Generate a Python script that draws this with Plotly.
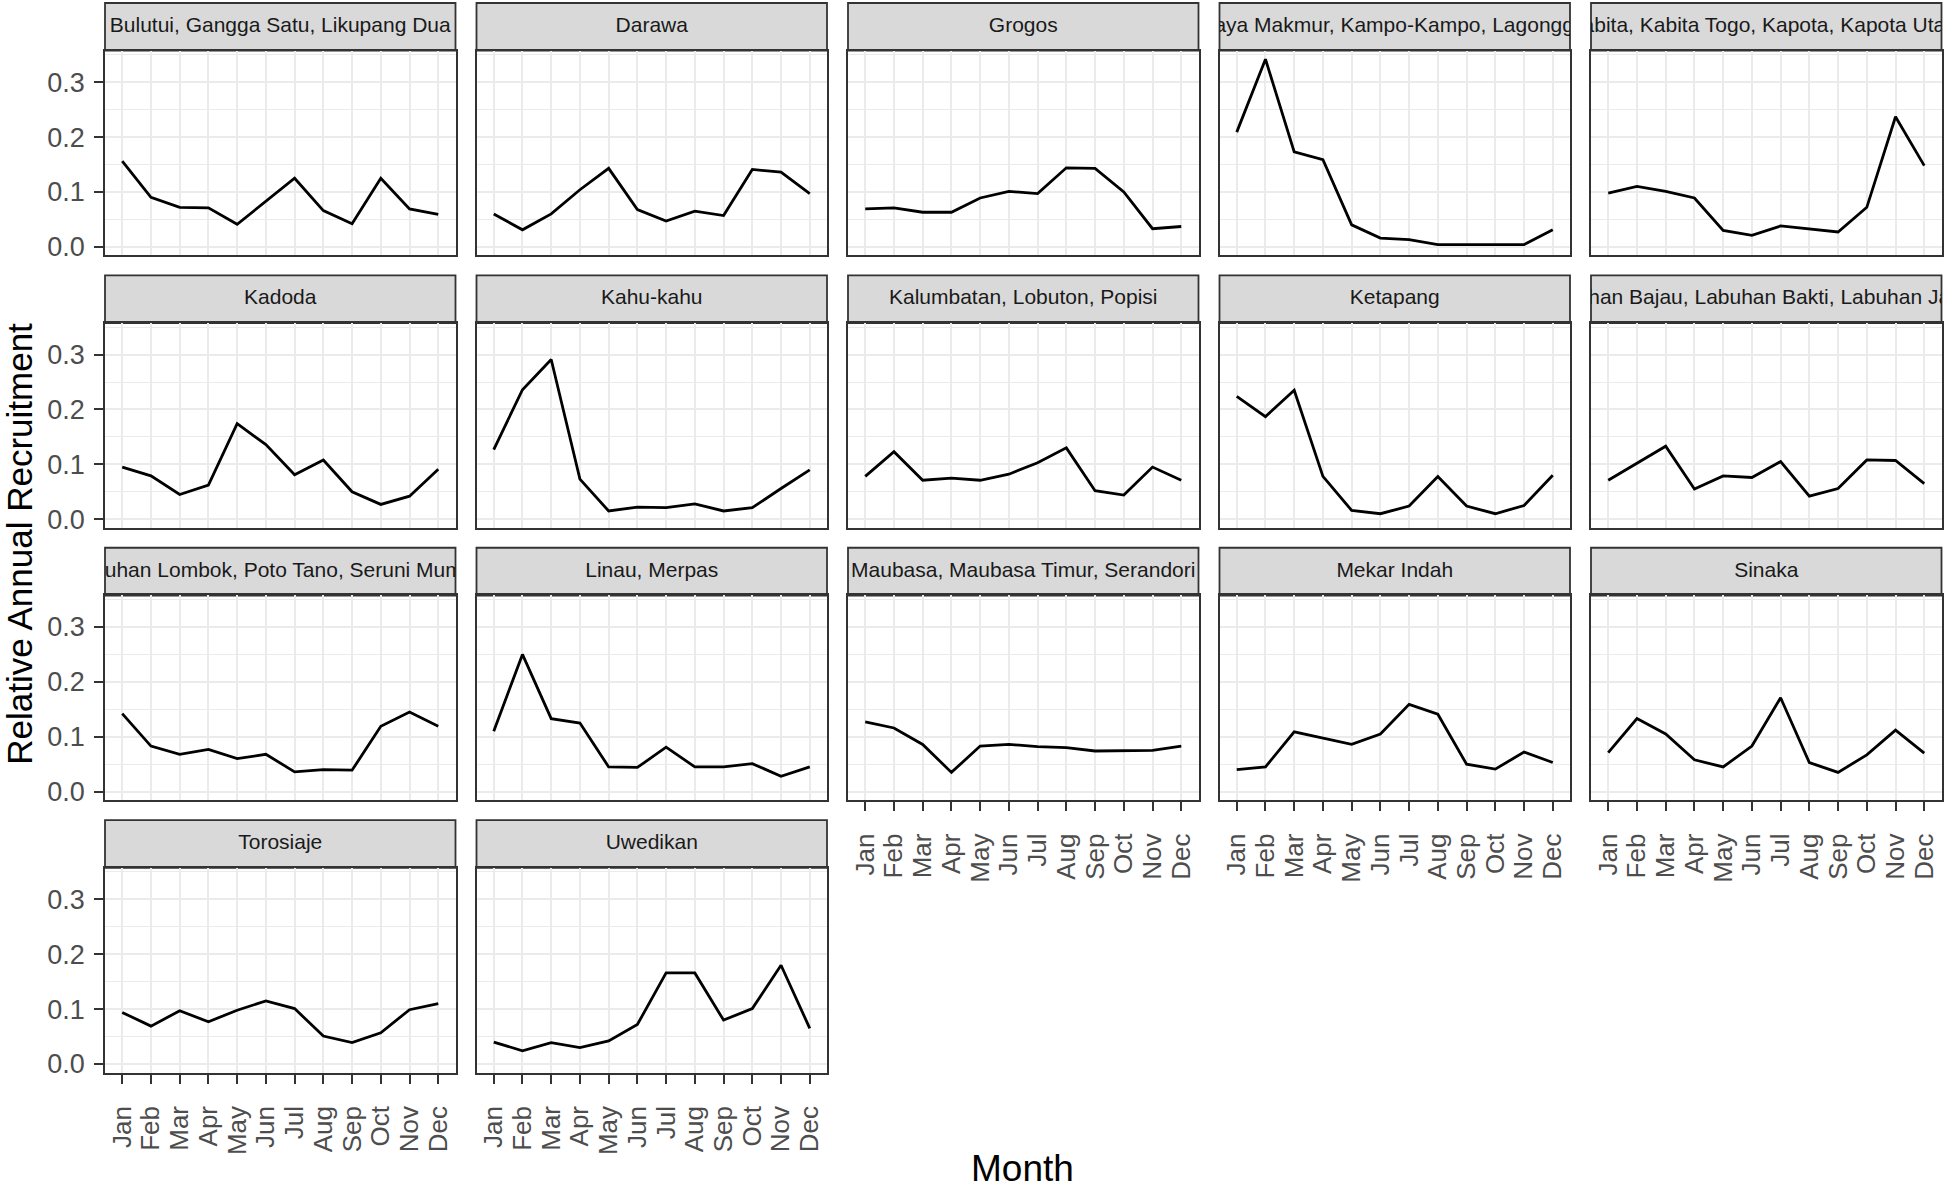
import plotly.graph_objects as go

# ---------------- data ----------------
months = ["Jan", "Feb", "Mar", "Apr", "May", "Jun",
          "Jul", "Aug", "Sep", "Oct", "Nov", "Dec"]

site_labels = [
    "Bulutui, Gangga Satu, Likupang Dua",
    "Darawa",
    "Grogos",
    "Jaya Makmur, Kampo-Kampo, Lagongga",
    "Kabita, Kabita Togo, Kapota, Kapota Utara",
    "Kadoda",
    "Kahu-kahu",
    "Kalumbatan, Lobuton, Popisi",
    "Ketapang",
    "Labuhan Bajau, Labuhan Bakti, Labuhan Jambu",
    "Labuhan Lombok, Poto Tano, Seruni Mumbul",
    "Linau, Merpas",
    "Maubasa, Maubasa Timur, Serandori",
    "Mekar Indah",
    "Sinaka",
    "Torosiaje",
    "Uwedikan",
]

bulutui = [0.156, 0.090, 0.072, 0.071, 0.041, 0.083, 0.125, 0.066, 0.042, 0.125, 0.069, 0.059]
darawa = [0.060, 0.031, 0.060, 0.104, 0.143, 0.068, 0.047, 0.065, 0.057, 0.141, 0.136, 0.097]
grogos = [0.069, 0.071, 0.063, 0.063, 0.089, 0.101, 0.097, 0.144, 0.143, 0.100, 0.033, 0.037]
kampo = [0.209, 0.342, 0.173, 0.159, 0.040, 0.016, 0.013, 0.004, 0.004, 0.004, 0.004, 0.031]
kabita = [0.098, 0.110, 0.101, 0.089, 0.030, 0.021, 0.038, 0.033, 0.027, 0.072, 0.237, 0.148]
kadoda = [0.095, 0.079, 0.045, 0.062, 0.174, 0.136, 0.081, 0.108, 0.050, 0.027, 0.042, 0.091]
kahukahu = [0.127, 0.236, 0.291, 0.073, 0.015, 0.022, 0.021, 0.028, 0.015, 0.021, 0.056, 0.090]
kalumbatan = [0.078, 0.123, 0.071, 0.075, 0.071, 0.082, 0.103, 0.130, 0.052, 0.044, 0.095, 0.071]
ketapang = [0.224, 0.187, 0.235, 0.078, 0.016, 0.010, 0.024, 0.078, 0.024, 0.010, 0.025, 0.080]
labuhan_bajau = [0.071, 0.102, 0.133, 0.055, 0.079, 0.076, 0.105, 0.042, 0.056, 0.108, 0.107, 0.065]
labuhan_lombok = [0.142, 0.083, 0.068, 0.077, 0.060, 0.068, 0.036, 0.040, 0.039, 0.119, 0.145, 0.119]
linau = [0.110, 0.250, 0.133, 0.125, 0.045, 0.044, 0.081, 0.045, 0.045, 0.051, 0.028, 0.045]
maubasa = [0.127, 0.116, 0.086, 0.035, 0.083, 0.086, 0.082, 0.080, 0.074, 0.074, 0.075, 0.083]
mekar_indah = [0.040, 0.045, 0.109, 0.097, 0.086, 0.105, 0.159, 0.141, 0.050, 0.041, 0.072, 0.053]
sinaka = [0.071, 0.133, 0.105, 0.058, 0.045, 0.083, 0.171, 0.053, 0.035, 0.067, 0.112, 0.070]
torosiaje = [0.094, 0.069, 0.097, 0.077, 0.098, 0.115, 0.101, 0.051, 0.039, 0.057, 0.099, 0.110]
uwedikan = [0.040, 0.024, 0.039, 0.030, 0.042, 0.072, 0.166, 0.166, 0.080, 0.101, 0.180, 0.065]

series = [bulutui, darawa, grogos, kampo, kabita, kadoda, kahukahu, kalumbatan,
          ketapang, labuhan_bajau, labuhan_lombok, linau, maubasa, mekar_indah,
          sinaka, torosiaje, uwedikan]

y_ticks = [0.0, 0.1, 0.2, 0.3]
y_minor = [0.05, 0.15, 0.25, 0.35]

# ---------------- layout geometry ----------------
W, H = 1949, 1193
FONT = "Liberation Sans"
col_left = [105, 476.5, 848, 1219.5, 1591]
pw = 350.5
row_top = [51, 325, 599, 873]
ph = 206
sh = 48
y_range = [-0.0158, 0.3574]
ncol = 5
n = len(site_labels)

last_row_in_col = {}
for i in range(n):
    r, c = divmod(i, ncol)
    last_row_in_col[c] = max(last_row_in_col.get(c, -1), r)

fig = go.Figure()
layout_axes = {}
shapes = []


def ax_name(prefix, k):
    return prefix if k == 1 else f"{prefix}{k}"


for i, (lab, vals) in enumerate(zip(site_labels, series)):
    r, c = divmod(i, ncol)
    k = i + 1
    x0 = col_left[c] / W
    x1 = (col_left[c] + pw) / W
    yt = row_top[r]
    yb = yt + ph
    bottom = (r == last_row_in_col[c])
    left = (c == 0)

    fig.add_trace(go.Scatter(
        x=months, y=vals, mode="lines",
        line=dict(color="black", width=2.8),
        xaxis=ax_name("x", k), yaxis=ax_name("y", k),
        showlegend=False, hoverinfo="skip"))

    layout_axes[ax_name("xaxis", k)] = dict(
        domain=[x0, x1], anchor=ax_name("y", k),
        type="category", categoryorder="array", categoryarray=months,
        range=[-0.6, 11.6],
        tickmode="array", tickvals=months, ticktext=months,
        showgrid=True, gridcolor="#EBEBEB", gridwidth=2,
        showline=True, mirror=True, linecolor="#333333", linewidth=1.8,
        zeroline=False,
        ticks="outside" if bottom else "", ticklen=9, tickwidth=2.2, tickcolor="#333333",
        showticklabels=bottom, tickangle=-90, ticklabelstandoff=12,
        tickfont=dict(family=FONT, size=26, color="#4D4D4D"),
        fixedrange=True)
    layout_axes[ax_name("yaxis", k)] = dict(
        domain=[1 - yb / H, 1 - yt / H], anchor=ax_name("x", k),
        range=y_range,
        tickmode="array", tickvals=y_ticks, ticktext=[f"{v:.1f}" for v in y_ticks],
        showgrid=True, gridcolor="#EBEBEB", gridwidth=2,
        minor=dict(tickvals=y_minor, showgrid=True, gridcolor="#EBEBEB", gridwidth=1.2, ticks=""),
        showline=True, mirror=True, linecolor="#333333", linewidth=1.8,
        zeroline=False,
        ticks="outside" if left else "", ticklen=9, tickwidth=2.2, tickcolor="#333333",
        showticklabels=left, ticklabelstandoff=4,
        tickfont=dict(family=FONT, size=27, color="#4D4D4D"),
        fixedrange=True)

    # strip (facet label)
    kk = n + i + 1
    shapes.append(dict(type="rect", xref="paper", yref="paper",
                       x0=x0, x1=x1, y0=1 - yt / H, y1=1 - (yt - sh) / H,
                       fillcolor="#D9D9D9", line=dict(color="#333333", width=1.8),
                       layer="below"))
    layout_axes[f"xaxis{kk}"] = dict(domain=[x0, x1], anchor=f"y{kk}", range=[0, 1],
                                     visible=False, fixedrange=True)
    layout_axes[f"yaxis{kk}"] = dict(domain=[1 - yt / H, 1 - (yt - sh) / H], anchor=f"x{kk}",
                                     range=[0, 1], visible=False, fixedrange=True)
    fig.add_trace(go.Scatter(
        x=[0.5], y=[0.5], mode="text", text=[lab], textposition="middle center",
        textfont=dict(family=FONT, size=21, color="#1A1A1A"),
        cliponaxis=True, xaxis=f"x{kk}", yaxis=f"y{kk}",
        showlegend=False, hoverinfo="skip"))

fig.update_layout(**layout_axes)
fig.update_layout(
    width=W, height=H,
    margin=dict(l=0, r=0, t=0, b=0),
    paper_bgcolor="white", plot_bgcolor="rgba(0,0,0,0)",
    shapes=shapes,
    font=dict(family=FONT, color="black"),
    annotations=[
        dict(text="Relative Annual Recruitment", xref="paper", yref="paper",
             x=20 / W, y=1 - 547 / H, textangle=-90, showarrow=False,
             font=dict(family=FONT, size=35, color="black"),
             xanchor="center", yanchor="middle"),
        dict(text="Month", xref="paper", yref="paper",
             x=1023 / W, y=1 - 1175 / H, showarrow=False,
             font=dict(family=FONT, size=37, color="black"),
             xanchor="center", yanchor="middle"),
    ],
)

fig.write_html("out.html",
               config={"displayModeBar": False},
               post_script="document.body.style.margin='0';document.body.style.overflow='hidden';")
